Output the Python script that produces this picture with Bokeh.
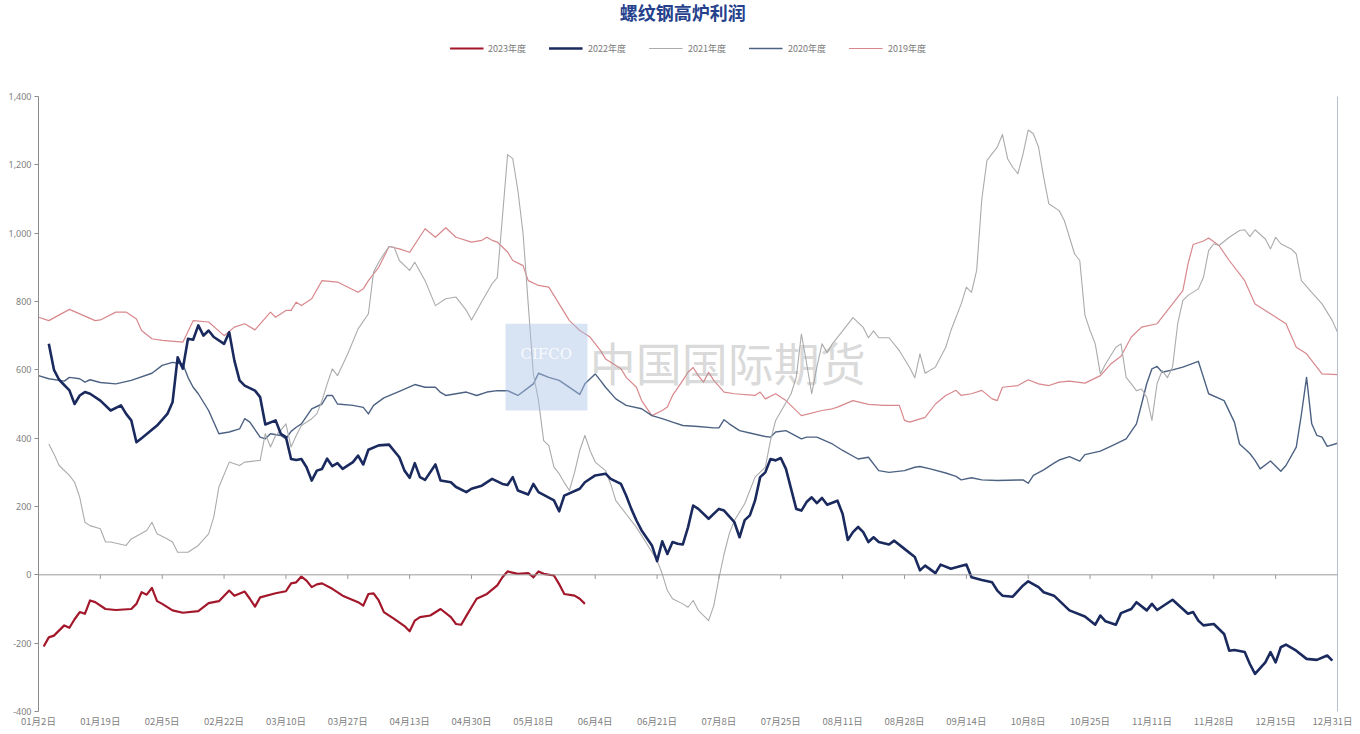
from bokeh.plotting import figure
from bokeh.models import (Range1d, LinearAxis, FixedTicker, NumeralTickFormatter, Span,
                          Label, Legend, LegendItem, BoxAnnotation)
from bokeh.embed import file_html
from bokeh.resources import INLINE

# ---------------- data (x = trading-day index from 01月2日) ----------------
x_tick_days = [0, 12, 24, 36, 48, 60, 72, 84, 96, 108, 120,
               132, 144, 156, 168, 180, 192, 204, 216, 228, 240, 252]
x_tick_labels = ["01月2日", "01月19日", "02月5日", "02月22日", "03月10日", "03月27日",
                 "04月13日", "04月30日", "05月18日", "06月4日", "06月21日", "07月8日",
                 "07月25日", "08月11日", "08月28日", "09月14日", "10月8日", "10月25日",
                 "11月11日", "11月28日", "12月15日", "12月31日"]
y_ticks = [-400, -200, 0, 200, 400, 600, 800, 1000, 1200, 1400]

days_2019 = [0, 2, 6, 11, 12, 15, 17, 19, 20, 22,
             24, 28, 30, 33, 36, 38, 40, 42, 45, 46,
             48, 49, 50, 51, 53, 55, 58, 62, 63, 64,
             66, 68, 70, 72, 75, 77, 79, 81, 84, 86,
             87, 88, 89, 91, 92, 94, 95, 97, 99, 101,
             103, 105, 107, 109, 110, 112, 113, 114, 116, 117,
             119, 121, 122, 123, 125, 126, 127, 128, 129, 130,
             131, 133, 135, 139, 140, 141, 143, 145, 148, 152,
             154, 155, 158, 161, 164, 167, 168, 169, 172, 174,
             176, 178, 179, 181, 183, 185, 186, 187, 190, 192,
             194, 196, 198, 200, 203, 206, 208, 210, 212, 214,
             217, 220, 222, 223, 224, 226, 227, 229, 231, 234,
             236, 239, 242, 244, 246, 249, 252]
vals_2019 = [754, 744, 777, 744, 746, 769, 769, 749, 715, 691,
             686, 681, 744, 740, 700, 725, 735, 717, 769, 754,
             774, 774, 798, 788, 808, 861, 857, 827, 837, 861,
             900, 961, 954, 944, 1013, 988, 1016, 988, 974, 979,
             988, 979, 974, 945, 920, 905, 861, 847, 842, 793,
             744, 715, 696, 657, 632, 613, 603, 578, 549, 510,
             466, 481, 491, 525, 569, 593, 607, 583, 564, 593,
             569, 535, 530, 525, 535, 515, 530, 510, 466, 481,
             486, 491, 510, 499, 496, 496, 452, 447, 461, 500,
             525, 540, 525, 530, 540, 515, 510, 549, 554, 571,
             559, 554, 564, 567, 561, 583, 617, 640, 696, 725,
             735, 793, 832, 910, 967, 977, 986, 964, 920, 861,
             793, 764, 735, 666, 647, 588, 586]

days_2020 = [0, 2, 5, 6, 8, 9, 10, 12, 15, 18,
             22, 24, 26, 28, 29, 30, 31, 33, 35, 37,
             39, 40, 41, 43, 44, 45, 47, 48, 49, 50,
             51, 53, 55, 56, 57, 58, 61, 63, 64, 65,
             67, 70, 73, 75, 77, 78, 79, 83, 85, 87,
             89, 91, 93, 96, 97, 99, 101, 102, 105, 106,
             108, 109, 110, 112, 114, 117, 119, 121, 123, 125,
             128, 131, 132, 133, 134, 136, 138, 141, 142, 143,
             145, 148, 149, 151, 154, 156, 159, 161, 163, 165,
             168, 170, 171, 173, 176, 178, 179, 181, 183, 186,
             191, 192, 193, 195, 197, 198, 200, 202, 203, 206,
             208, 211, 213, 214, 215, 216, 217, 218, 220, 222,
             225, 226, 227, 230, 232, 233, 235, 236, 237, 239,
             241, 242, 244, 245, 246, 247, 248, 249, 250, 252]
vals_2020 = [583, 574, 567, 578, 574, 564, 571, 563, 559, 569,
             590, 613, 622, 617, 578, 549, 530, 481, 413, 418,
             427, 457, 447, 403, 398, 413, 408, 398, 420, 432,
             442, 486, 500, 525, 525, 500, 496, 490, 471, 496,
             518, 537, 557, 549, 549, 534, 525, 535, 525, 535,
             539, 539, 525, 559, 590, 578, 569, 559, 528, 559,
             588, 569, 549, 515, 496, 486, 466, 457, 447, 437,
             434, 430, 430, 454, 442, 422, 415, 405, 403, 418,
             422, 398, 403, 403, 383, 364, 339, 344, 305, 300,
             305, 315, 317, 310, 298, 288, 278, 284, 278, 276,
             278, 268, 291, 307, 327, 336, 346, 333, 352, 362,
             376, 398, 442, 500, 560, 603, 610, 593, 600, 608,
             625, 578, 530, 510, 447, 383, 355, 335, 310, 333,
             303, 320, 374, 470, 578, 442, 408, 403, 376, 385]

days_2021 = [2, 3, 4, 6, 7, 8, 9, 10, 12, 13,
             14, 17, 18, 21, 22, 23, 25, 26, 27, 29,
             31, 33, 34, 35, 37, 39, 40, 43, 44, 45,
             46, 47, 48, 49, 50, 51, 53, 54, 55, 56,
             57, 58, 60, 62, 64, 65, 66, 67, 68, 69,
             70, 72, 73, 75, 77, 79, 81, 83, 84, 86,
             88, 89, 90, 91, 92, 93, 94, 95, 96, 97,
             98, 99, 100, 101, 102, 103, 104, 105, 106, 107,
             108, 110, 111, 112, 114, 116, 118, 120, 121, 122,
             123, 125, 126, 127, 128, 130, 131, 132, 133, 134,
             135, 137, 139, 141, 142, 143, 146, 147, 148, 149,
             150, 151, 152, 153, 154, 156, 158, 160, 161, 162,
             163, 165, 167, 169, 170, 171, 172, 174, 176, 177,
             179, 180, 181, 182, 183, 184, 186, 187, 188, 189,
             190, 191, 192, 193, 194, 195, 196, 198, 199, 200,
             201, 202, 203, 204, 205, 206, 207, 209, 210, 211,
             212, 213, 214, 215, 216, 217, 218, 219, 220, 221,
             222, 223, 225, 226, 227, 228, 229, 231, 233, 234,
             235, 236, 238, 239, 240, 241, 243, 244, 245, 247,
             249, 251, 252]
vals_2021 = [383, 354, 320, 291, 271, 227, 154, 144, 135, 96,
             96, 86, 105, 130, 154, 120, 105, 96, 66, 66,
             86, 120, 169, 257, 330, 320, 330, 335, 413, 374,
             408, 423, 442, 374, 408, 437, 457, 471, 510, 559,
             603, 583, 647, 720, 764, 886, 915, 939, 961, 959,
             920, 891, 915, 861, 788, 808, 813, 774, 746, 800,
             852, 870, 1047, 1230, 1218, 1125, 1000, 793, 588, 510,
             393, 378, 315, 296, 270, 247, 300, 364, 408, 364,
             330, 305, 266, 217, 178, 139, 91, 42, 3, -46,
             -70, -85, -95, -75, -104, -134, -90, -10, 61, 120,
             159, 208, 286, 315, 393, 452, 530, 578, 705, 620,
             530, 608, 676, 650, 676, 714, 753, 724, 694, 714,
             694, 694, 656, 607, 577, 647, 590, 608, 666, 715,
             793, 842, 827, 891, 1100, 1213, 1252, 1289, 1218, 1193,
             1174, 1232, 1302, 1291, 1252, 1164, 1086, 1066, 1037, 988,
             939, 920, 760, 715, 676, 588, 617, 666, 676, 578,
             559, 539, 544, 520, 452, 560, 598, 577, 608, 735,
             803, 818, 837, 871, 949, 969, 964, 988, 1008, 1010,
             990, 1010, 983, 954, 988, 969, 954, 939, 861, 827,
             793, 744, 710]

days_2022 = [2, 3, 4, 6, 7, 8, 9, 10, 12, 14,
             16, 17, 18, 19, 20, 23, 25, 26, 27, 28,
             29, 30, 31, 32, 33, 34, 36, 37, 38, 39,
             40, 42, 43, 44, 46, 47, 48, 49, 50, 51,
             52, 53, 54, 55, 56, 57, 58, 59, 61, 62,
             63, 64, 66, 68, 70, 71, 72, 73, 74, 75,
             77, 78, 80, 81, 83, 84, 86, 88, 90, 91,
             92, 93, 95, 96, 97, 100, 101, 102, 105, 106,
             108, 110, 111, 113, 114, 115, 116, 117, 119, 120,
             121, 122, 123, 124, 125, 126, 127, 128, 130, 132,
             133, 135, 136, 137, 138, 139, 140, 141, 142, 143,
             144, 145, 147, 148, 149, 150, 151, 152, 153, 155,
             156, 157, 158, 159, 160, 161, 162, 163, 165, 166,
             168, 170, 171, 172, 174, 175, 177, 180, 181, 183,
             185, 186, 187, 189, 191, 192, 194, 195, 197, 200,
             203, 205, 206, 207, 209, 210, 212, 213, 215, 216,
             217, 220, 223, 224, 225, 226, 228, 230, 231, 232,
             234, 235, 236, 238, 239, 240, 241, 242, 244, 246,
             248, 250, 251]
vals_2022 = [676, 600, 571, 540, 500, 525, 535, 530, 510, 481,
             496, 471, 452, 388, 400, 437, 471, 505, 637, 603,
             691, 688, 730, 700, 715, 696, 676, 710, 627, 569,
             554, 539, 520, 440, 452, 413, 403, 339, 336, 339,
             315, 276, 305, 310, 340, 318, 327, 310, 330, 349,
             323, 366, 379, 381, 344, 305, 284, 327, 286, 278,
             323, 276, 271, 257, 242, 252, 261, 281, 266, 263,
             286, 247, 235, 266, 242, 218, 186, 232, 252, 271,
             291, 296, 281, 266, 232, 193, 159, 130, 86, 40,
             98, 61, 96, 91, 89, 139, 203, 193, 164, 193,
             188, 154, 110, 160, 174, 217, 286, 300, 339, 335,
             342, 310, 193, 188, 213, 227, 210, 225, 205, 217,
             178, 102, 125, 140, 125, 96, 110, 96, 89, 100,
             76, 52, 13, 27, 5, 30, 18, 30, -7, -15,
             -22, -46, -61, -64, -31, -19, -36, -51, -61, -104,
             -122, -146, -119, -136, -146, -112, -100, -80, -104, -85,
             -103, -73, -114, -109, -134, -148, -144, -173, -222, -220,
             -226, -261, -290, -256, -226, -256, -212, -204, -222, -246,
             -249, -236, -251]

days_2023 = [1, 2, 3, 5, 6, 7, 8, 9, 10, 11,
             13, 15, 18, 19, 20, 21, 22, 23, 24, 26,
             28, 31, 33, 35, 37, 38, 40, 41, 42, 43,
             46, 48, 49, 50, 51, 52, 53, 54, 55, 57,
             59, 62, 63, 64, 65, 66, 67, 69, 71, 72,
             73, 74, 76, 78, 80, 81, 82, 83, 84, 85,
             87, 89, 90, 91, 93, 95, 96, 97, 98, 100,
             101, 102, 104, 105, 106]
vals_2023 = [-210, -183, -178, -148, -155, -130, -109, -114, -75, -80,
             -100, -103, -100, -85, -51, -58, -38, -77, -85, -104,
             -111, -106, -83, -77, -46, -61, -49, -70, -93, -66,
             -54, -48, -25, -22, -5, -17, -36, -28, -25, -41,
             -61, -80, -90, -56, -54, -75, -109, -129, -150, -165,
             -134, -124, -119, -100, -124, -144, -146, -120, -95, -70,
             -56, -31, -7, 10, 3, 5, -7, 10, 3, -2,
             -27, -56, -61, -70, -85]

series_names = ["2023年度", "2022年度", "2021年度", "2020年度", "2019年度"]

# ---------------- figure ----------------
Y_TOP = 1681.0
p = figure(frame_width=1299, frame_height=711,
           x_range=Range1d(0, 252), y_range=Range1d(-400, Y_TOP),
           output_backend="svg", toolbar_location=None,
           min_border_left=38, min_border_right=15, min_border_top=0, min_border_bottom=0,
           background_fill_color="white", border_fill_color="white")
p.outline_line_color = None
p.xgrid.visible = False
p.ygrid.visible = False

# left axis
p.yaxis.bounds = (-400, 1400)
p.yaxis.ticker = FixedTicker(ticks=y_ticks)
p.yaxis.formatter = NumeralTickFormatter(format="0,0")
p.yaxis.axis_line_color = "#8c8c8c"
p.yaxis.major_tick_line_color = "#8c8c8c"
p.yaxis.major_tick_out = 4
p.yaxis.major_tick_in = 0
p.yaxis.minor_tick_line_color = None
p.yaxis.major_label_standoff = 3
p.yaxis.major_label_text_font_size = "9px"
p.yaxis.major_label_text_color = "#808080"
p.yaxis.major_label_text_font = "Noto Sans"

# bottom axis (labels only)
p.xaxis.ticker = FixedTicker(ticks=x_tick_days)
p.xaxis.major_label_overrides = {d: lab for d, lab in zip(x_tick_days, x_tick_labels)}
p.xaxis.axis_line_color = None
p.xaxis.major_tick_line_color = None
p.xaxis.minor_tick_line_color = None
p.xaxis.major_tick_out = 0
p.xaxis.major_label_standoff = 2
p.xaxis.major_label_text_font_size = "9.5px"
p.xaxis.major_label_text_color = "#808080"
p.xaxis.major_label_text_font = "Noto Sans CJK SC"

# right edge line
r_ax = LinearAxis(bounds=(-400, 1400), ticker=FixedTicker(ticks=[]),
                  axis_line_color="#b8bfd0", major_tick_line_color=None,
                  minor_tick_line_color=None, major_label_text_font_size="0px")
p.add_layout(r_ax, "right")

# zero line with its ticks
p.add_layout(Span(location=0, dimension="width", line_color="#9a9a9a", line_width=1))
p.segment(x0=x_tick_days, y0=[0] * len(x_tick_days), x1=x_tick_days,
          y1=[-12] * len(x_tick_days), line_color="#9a9a9a", line_width=1)

# series
r19 = p.line(days_2019, vals_2019, line_color="#D8888C", line_width=1.2, line_join="round")
r20 = p.line(days_2020, vals_2020, line_color="#4D6283", line_width=1.4, line_join="round")
r21 = p.line(days_2021, vals_2021, line_color="#ABABAB", line_width=1.1, line_join="round")
r22 = p.line(days_2022, vals_2022, line_color="#1A2A5E", line_width=2.6, line_join="round")
r23 = p.line(days_2023, vals_2023, line_color="#A3172B", line_width=2.2, line_join="round")

legend = Legend(items=[LegendItem(label=series_names[0], renderers=[r23]),
                       LegendItem(label=series_names[1], renderers=[r22]),
                       LegendItem(label=series_names[2], renderers=[r21]),
                       LegendItem(label=series_names[3], renderers=[r20]),
                       LegendItem(label=series_names[4], renderers=[r19])],
                location="top_center", orientation="horizontal",
                margin=38, padding=0, spacing=23,
                glyph_width=34, glyph_height=20, label_height=20, label_standoff=5,
                label_text_font_size="9px", label_text_color="#7a7a7a",
                label_text_font="Noto Sans CJK SC",
                border_line_color=None, background_fill_alpha=0)
p.add_layout(legend)

# watermark
p.add_layout(BoxAnnotation(left=90.6, right=106.5, bottom=481, top=735,
                           fill_color="#a9c2e6", fill_alpha=0.45, line_color=None))
p.add_layout(Label(x=98.5, y=645, text="CIFCO", text_align="center", text_baseline="middle",
                   text_font_size="15px", text_font="DejaVu Serif", text_color="white",
                   text_alpha=0.85))
p.add_layout(Label(x=133.7, y=627, text="中国国际期货", text_align="center",
                   text_baseline="middle", text_font_size="46px",
                   text_font="Noto Sans CJK SC", text_color="#9e9e9e", text_alpha=0.4))

# title
p.add_layout(Label(x=125, y=1646, text="螺纹钢高炉利润", text_align="center",
                   text_baseline="middle", text_font_size="18px", text_font_style="bold",
                   text_font="Noto Sans CJK SC", text_color="#25418C"))

open("out.html", "w").write(file_html(p, INLINE))
